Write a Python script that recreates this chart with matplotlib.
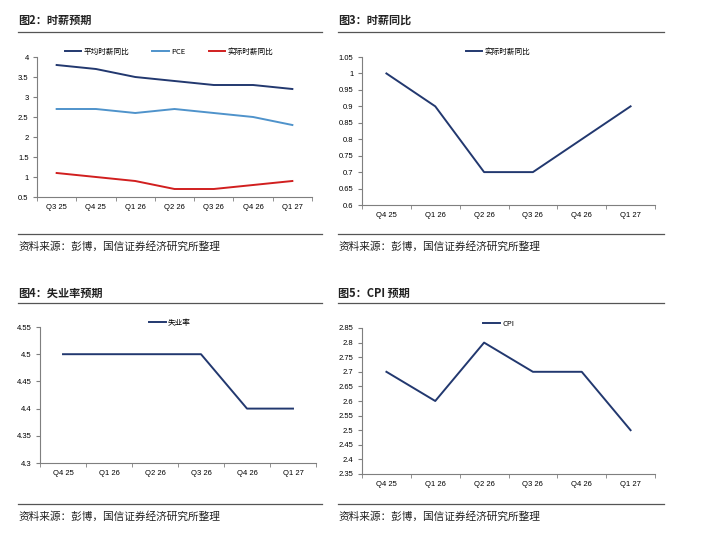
import matplotlib
matplotlib.use('Agg')
import matplotlib.pyplot as plt
from matplotlib.lines import Line2D
from matplotlib.ticker import FuncFormatter, FixedLocator

plt.rcParams['font.family'] = ['Liberation Sans', 'Noto Sans CJK SC', 'DejaVu Sans']
CJK = ['Noto Sans CJK SC', 'DejaVu Sans']

# data
q_wage = ['Q3 25', 'Q4 25', 'Q1 26', 'Q2 26', 'Q3 26', 'Q4 26', 'Q1 27']
avg_wage = [3.8, 3.7, 3.5, 3.4, 3.3, 3.3, 3.2]
pce = [2.7, 2.7, 2.6, 2.7, 2.6, 2.5, 2.3]
real_wage = [1.1, 1.0, 0.9, 0.7, 0.7, 0.8, 0.9]

quarters = ['Q4 25', 'Q1 26', 'Q2 26', 'Q3 26', 'Q4 26', 'Q1 27']
real_wage2 = [1.0, 0.9, 0.7, 0.7, 0.8, 0.9]
unemp = [4.5, 4.5, 4.5, 4.5, 4.4, 4.4]
cpi = [2.7, 2.6, 2.8, 2.7, 2.7, 2.5]

W, H = 721, 550
NAVY = '#22386f'
LIGHT = '#4f93cb'
RED = '#d11f1f'
GRID = '#7f7f7f'

fig = plt.figure(figsize=(W / 100, H / 100), dpi=100)


def fx(x):
    return x / W


def fy(y):
    return 1 - y / H


def frame(x0, x1, ytitle, yline, ybot, title):
    fig.text(fx(x0), fy(ytitle), title, fontsize=8, fontweight='bold',
             va='center', ha='left', color='#222222', family=CJK)
    for yy in (yline, ybot):
        fig.add_artist(Line2D([fx(x0), fx(x1)], [fy(yy), fy(yy)],
                              transform=fig.transFigure, color='#555555', lw=0.9))
    fig.text(fx(x0), fy(ybot + 12), '资料来源：彭博，国信证券经济研究所整理',
             fontsize=7.7, va='center', ha='left', color='#222222', family=CJK)


def make_ax(left, right, top, bottom, cats, ymin, ymax, step):
    ax = fig.add_axes([fx(left), fy(bottom), fx(right - left), (bottom - top) / H])
    n = len(cats)
    ax.set_xlim(-0.5, n - 0.5)
    ax.set_ylim(ymin, ymax)
    ax.set_xticks(range(n))
    ax.set_xticklabels(cats)
    ax.xaxis.set_minor_locator(FixedLocator([i - 0.5 for i in range(n + 1)]))
    ax.tick_params(axis='x', which='major', length=0, labelsize=5.5, pad=5)
    ax.tick_params(axis='x', which='minor', length=3, color=GRID, direction='out')
    k = int(round((ymax - ymin) / step))
    ax.set_yticks([ymin + i * step for i in range(k + 1)])
    ax.yaxis.set_major_formatter(FuncFormatter(lambda v, p: '%g' % round(v, 2)))
    ax.tick_params(axis='y', length=3, color=GRID, labelsize=5.5, pad=3)
    for s in ('top', 'right'):
        ax.spines[s].set_visible(False)
    for s in ('left', 'bottom'):
        ax.spines[s].set_color(GRID)
        ax.spines[s].set_linewidth(0.8)
    return ax


def add_legend(ax, cx, cy):
    ax.legend(loc='center', bbox_to_anchor=(fx(cx), fy(cy)),
              bbox_transform=fig.transFigure, ncol=3, frameon=False,
              prop={'family': CJK, 'size': 5.5}, handlelength=2.2,
              handletextpad=0.3, columnspacing=3.0, borderaxespad=0)


# 图2
frame(18, 322, 20, 32, 234, '图2：时薪预期')
ax1 = make_ax(37, 312, 57, 197, q_wage, 0.5, 4, 0.5)
ax1.plot(range(len(q_wage)), avg_wage, color=NAVY, lw=1.4, label='平均时薪同比')
ax1.plot(range(len(q_wage)), pce, color=LIGHT, lw=1.4, label='PCE')
ax1.plot(range(len(q_wage)), real_wage, color=RED, lw=1.4, label='实际时薪同比')
add_legend(ax1, 169, 52)

# 图3
frame(338, 664, 20, 32, 234, '图3：时薪同比')
ax2 = make_ax(362, 655, 57, 205, quarters, 0.6, 1.05, 0.05)
ax2.plot(range(len(quarters)), real_wage2, color=NAVY, lw=1.4, label='实际时薪同比')
add_legend(ax2, 498, 52)

# 图4
frame(18, 322, 293, 303, 504, '图4：失业率预期')
ax3 = make_ax(40, 316, 327, 463, quarters, 4.3, 4.55, 0.05)
ax3.plot(range(len(quarters)), unemp, color=NAVY, lw=1.4, label='失业率')
add_legend(ax3, 170, 323)

# 图5
frame(338, 664, 293, 303, 504, '图5：CPI 预期')
ax4 = make_ax(362, 655, 328, 474, quarters, 2.35, 2.85, 0.05)
ax4.plot(range(len(quarters)), cpi, color=NAVY, lw=1.4, label='CPI')
add_legend(ax4, 499, 324)

fig.savefig('out.png', dpi=100, facecolor='white')
